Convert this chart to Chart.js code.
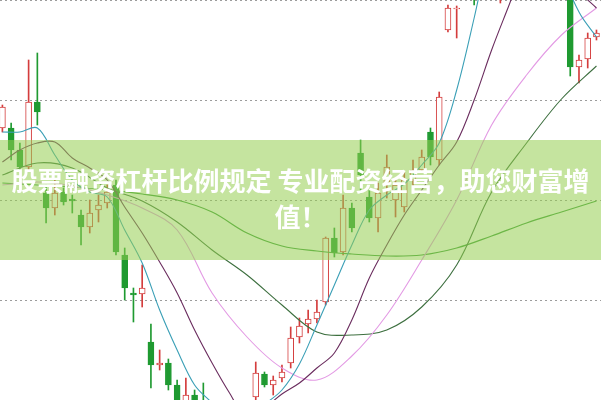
<!DOCTYPE html>
<html>
<head>
<meta charset="utf-8">
<script src="https://cdn.jsdelivr.net/npm/chart.js@4/dist/chart.umd.min.js"></script>
<style>
  html, body { margin: 0; padding: 0; background: #fff; }
  #box { position: relative; width: 601px; height: 400px; overflow: hidden; }
  #banner {
    position: absolute; left: 0; top: 140px; width: 601px; height: 120px;
    background: rgba(150, 205, 80, 0.55);
    display: flex; align-items: center; justify-content: center;
  }
  #banner div {
    width: 601px; text-align: center; color: #fff;
    font-family: "Noto Sans CJK SC", sans-serif; font-weight: 700;
    font-size: 26px; line-height: 36px; margin-top: -4px;
  }
</style>
</head>
<body>
<div id="box">
  <canvas id="kChart" width="601" height="400"></canvas>
  <div id="banner"><div>股票融资杠杆比例规定 专业配资经营，助您财富增<br>值！</div></div>
</div>
<script>
//K线数据 开 高 低 收
var opens  = [13.69,13.69,13.47,13.30,13.95,13.04,12.89,13.05,12.98,12.82,12.70,12.87,12.94,13.12,12.42,12.04,12.03,11.55,11.32,11.34,
              11.12,10.87,11.02,10.92,10.67,10.52,10.57,10.42,10.49,11.00,11.23,11.12,11.19,11.34,11.60,11.73,11.78,11.95,12.59,12.45,
              12.89,13.44,13.00,12.79,13.14,12.97,12.90,13.17,13.27,13.65,13.37,14.67,14.88,15.02,15.17,15.02,15.37,15.47,15.62,15.87,
              15.77,15.97,15.87,16.07,15.92,15.37,14.30,14.38,14.60];
var highs  = [13.92,13.74,13.54,14.37,14.44,13.12,13.17,13.09,13.02,12.87,12.97,13.02,13.12,13.17,12.49,12.09,12.32,11.73,11.47,11.38,
              11.17,11.19,11.07,11.14,10.72,10.67,10.65,10.57,10.87,11.35,11.25,11.21,11.32,11.70,11.79,11.87,11.97,12.60,12.69,13.02,
              12.94,13.57,13.07,13.14,13.42,13.19,13.25,13.37,13.47,13.69,14.05,14.92,14.91,15.32,15.27,15.47,15.67,15.72,15.97,16.07,
              16.12,16.17,16.22,16.17,16.02,15.47,14.42,14.64,14.67];
var lows   = [13.65,13.37,13.22,13.27,13.72,12.74,12.82,12.92,12.84,12.52,12.64,12.75,12.89,12.42,11.97,11.75,11.90,11.09,11.27,11.07,
              10.77,10.82,10.67,10.57,10.42,10.37,10.32,10.35,10.42,10.87,11.10,11.02,11.15,11.29,11.54,11.64,11.74,11.92,12.40,12.42,
              12.65,13.04,12.75,12.65,12.99,12.80,12.85,13.07,13.25,13.32,13.32,14.65,14.59,15.00,14.92,14.99,15.27,14.94,15.52,15.67,
              15.67,15.82,15.77,15.82,15.47,14.21,14.14,14.29,14.57];
var closes = [13.90,13.47,13.30,13.95,13.85,12.89,13.04,12.95,12.96,12.70,12.84,12.92,13.05,12.45,12.09,12.02,12.09,11.32,11.34,11.12,
              10.87,11.02,10.77,10.67,10.52,10.57,10.42,10.49,10.77,11.24,11.12,11.17,11.25,11.59,11.71,11.78,11.85,12.59,12.44,12.89,
              12.69,13.22,12.79,13.04,13.30,13.12,13.17,13.27,13.40,13.40,14.00,14.89,14.89,15.22,15.02,15.37,15.57,15.62,15.87,15.77,
              15.97,15.87,16.07,15.92,15.57,14.30,14.37,14.59,14.64];

//均线 取样位置(K线序号)
var step2 = [0,2,4,6,8,10,12,14,16,18,20,22,24,26,28,30,32,34,36,38,40,42,44,46,48,50,52,54,56,58,60,62,64,66,68];
var step4 = [0,4,8,12,16,20,24,28,32,36,40,44,48,52,56,60,64,68];
var ma5  = [13.65,13.65,13.69,13.42,13.17,13.05,13.00,12.67,12.34,11.87,11.47,11.12,10.94,10.75,10.72,10.92,11.07,11.33,11.72,12.12,
            12.52,12.87,13.02,13.13,13.32,13.54,14.07,14.79,15.57,16.07,16.17,15.97,15.27,14.85,14.60];
var ma10 = [13.35,13.47,13.54,13.55,13.39,13.29,13.17,12.90,12.64,12.35,12.04,11.67,11.34,11.04,10.79,10.89,11.03,11.14,11.29,11.44,
            11.77,12.19,12.52,12.82,13.07,13.32,13.55,13.97,14.47,14.92,15.37,15.57,15.47,15.07,14.89];
var ma20 = [13.12,13.15,13.11,13.02,12.89,12.67,12.04,11.60,11.29,11.17,11.41,11.82,12.37,12.97,13.72,14.22,14.62,14.89];
var ma30 = [13.22,13.34,13.29,13.09,12.96,12.75,12.47,12.22,11.92,11.65,11.62,11.67,11.90,12.32,13.05,13.54,13.98,14.31];
var ma60 = [13.14,13.12,13.10,13.07,13.03,12.97,12.85,12.64,12.51,12.46,12.43,12.41,12.42,12.49,12.61,12.74,12.85,12.96];

//网格线价位
var yMin = 10.97, yMax = 14.97, yStep = 1;

var upColor = '#d43d3d';
var downColor = '#1f9a31';

function pts(idx, vals){
	var arr = [];
	for (var i = 0; i < idx.length; i++) arr.push({x: idx[i], y: vals[i]});
	return arr;
}

var bodies = [], wicks = [], bodyFill = [], lineColor = [];
for (var i = 0; i < opens.length; i++) {
	var o = opens[i], c = closes[i];
	if (Math.abs(o - c) < 0.01) c = o + (c >= o ? 0.01 : -0.01);
	bodies.push({x: i, y: [o, c]});
	wicks.push({x: i, y: [lows[i], highs[i]]});
	var up = closes[i] >= opens[i];
	bodyFill.push(up ? '#ffffff' : downColor);
	lineColor.push(up ? upColor : downColor);
}

function maLine(label, idx, vals, color, w){
	return {
		type: 'line', label: label, data: pts(idx, vals),
		borderColor: color, borderWidth: w, pointRadius: 0,
		tension: 0.35, fill: false, order: 0
	};
}

var ctx = document.getElementById('kChart').getContext('2d');
new Chart(ctx, {
	type: 'bar',
	data: {
		datasets: [
			maLine('MA5', step2, ma5, '#3a9fb6', 1.1),
			maLine('MA10', step2, ma10, '#6a2c5e', 1.1),
			maLine('MA20', step4, ma20, '#e39ae4', 1.1),
			maLine('MA30', step4, ma30, '#3d6f3f', 1.1),
			maLine('MA60', step4, ma60, '#3c9b3c', 1.2),
			{
				label: 'body', data: bodies, order: 1,
				backgroundColor: bodyFill, borderColor: lineColor,
				borderWidth: 1, borderSkipped: false, barThickness: 6, grouped: false
			},
			{
				label: 'wick', data: wicks, order: 2,
				backgroundColor: lineColor, borderWidth: 0,
				barThickness: 1, grouped: false
			}
		]
	},
	options: {
		responsive: false,
		animation: false,
		layout: { padding: 0 },
		plugins: { legend: { display: false }, tooltip: { enabled: false } },
		scales: {
			x: {
				type: 'linear', min: -0.275, max: 68.52,
				offset: false, display: false,
				grid: { offset: false }
			},
			y: {
				min: yMin, max: yMax,
				ticks: { display: false, stepSize: yStep, includeBounds: false },
				grid: { color: '#9c9c9c', lineWidth: 1, drawTicks: false },
				border: { display: false, dash: [2, 3] },
				afterFit: function(scale){ scale.width = 0; }
			}
		}
	}
});
</script>
</body>
</html>
